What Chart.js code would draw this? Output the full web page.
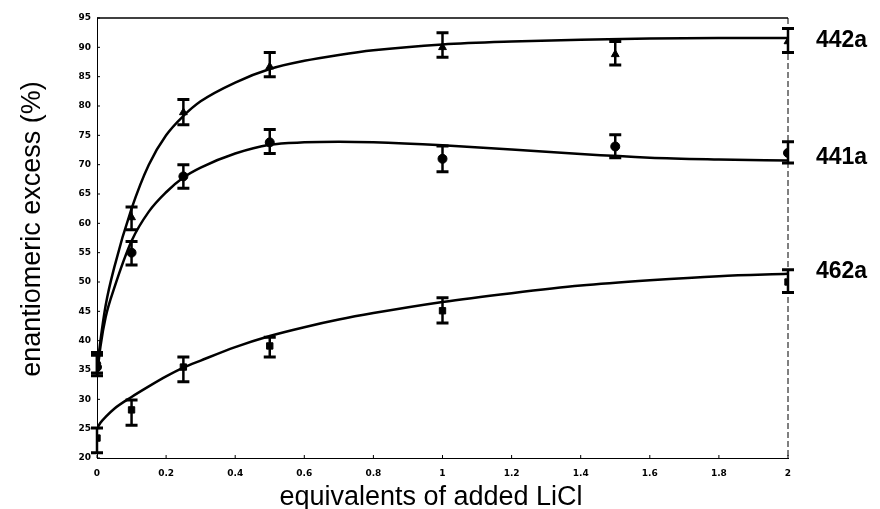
<!DOCTYPE html>
<html>
<head>
<meta charset="utf-8">
<script src="https://cdn.jsdelivr.net/npm/chart.js@4"></script>
<style>
  html, body { margin: 0; padding: 0; background: #fff; }
  #wrap { width: 880px; height: 509px; }
</style>
</head>
<body>
<div id="wrap"><canvas id="chart" width="880" height="509"></canvas></div>
<script>
// ── Data ────────────────────────────────────────────────────────────────────
const xTicks = [0, 0.2, 0.4, 0.6, 0.8, 1, 1.2, 1.4, 1.6, 1.8, 2];
const yTicks = [20, 25, 30, 35, 40, 45, 50, 55, 60, 65, 70, 75, 80, 85, 90, 95];

const seriesNames = ['442a', '441a', '462a'];

// measured points (LiCl equivalents) with error bars
const x442a  = [0, 0.1, 0.25, 0.5, 1, 1.5, 2];
const ee442a = [36.5, 61, 78.9, 86.7, 90, 88.8, 91];
const lo442a = [34.5, 58.9, 76.8, 85, 88.3, 87, 89.1];
const hi442a = [38, 62.8, 81.1, 89.1, 92.5, 91, 93.2];

const x441a  = [0, 0.1, 0.25, 0.5, 1, 1.5, 2];
const ee441a = [35.5, 55, 68, 73.8, 71, 73.1, 72];
const lo441a = [34, 52.9, 66, 71.9, 68.8, 71.2, 70.3];
const hi441a = [37.5, 56.9, 70, 76, 73.2, 75.1, 73.9];

const x462a  = [0, 0.1, 0.25, 0.5, 1, 2];
const ee462a = [23.4, 28.2, 35.5, 39.1, 45.1, 50];
const lo462a = [20.9, 25.6, 33, 37.2, 43, 48.2];
const hi462a = [25.1, 29.9, 37.2, 40.6, 47.3, 52.1];

// fitted curves
const fitX    = [0, 0.01, 0.025, 0.05, 0.1, 0.15, 0.2, 0.25, 0.3, 0.4, 0.5, 0.6, 0.7, 0.8, 1.0, 1.2, 1.4, 1.6, 1.8, 2.0];
const fit442a = [35, 40, 46, 52.5, 62.5, 70, 75, 78.3, 80.8, 84, 86.3, 87.7, 88.7, 89.5, 90.5, 91, 91.3, 91.5, 91.6, 91.6];
const fit441a = [34, 39, 44, 49, 57, 62, 65.3, 67.8, 69.5, 71.9, 73.4, 73.8, 73.9, 73.8, 73.3, 72.6, 71.8, 71.2, 70.9, 70.7];
const fit462a = [25, 26, 27, 28.4, 30.4, 32.2, 33.9, 35.4, 36.6, 38.9, 40.8, 42.3, 43.6, 44.7, 46.6, 48.1, 49.4, 50.3, 51.0, 51.4];

const labelY = [91.5, 71.5, 52];   // where the series names sit, in data units

// ── Helpers ─────────────────────────────────────────────────────────────────
const pts = (xs, ys) => xs.map((x, i) => ({ x, y: ys[i] }));

function curve(data) {
  return { type: 'scatter', data: pts(fitX, data), showLine: true, borderColor: '#000',
           borderWidth: 2.5, pointRadius: 0, cubicInterpolationMode: 'monotone', fill: false };
}
function marks(xs, ys, lo, hi, style) {
  return { type: 'scatter', data: pts(xs, ys), pointStyle: style, pointRadius: 4.5,
           backgroundColor: '#000', borderColor: '#000', lo, hi };
}

// ── Plugin: frame, error bars, titles, series names ─────────────────────────
const decor = {
  id: 'decor',
  beforeDatasetsDraw(chart) {
    const { ctx, chartArea: a } = chart;
    ctx.save();
    ctx.strokeStyle = '#000';
    ctx.lineWidth = 1.5;
    ctx.beginPath(); ctx.moveTo(a.left, a.top); ctx.lineTo(a.right, a.top); ctx.stroke();
    ctx.lineWidth = 1;
    ctx.setLineDash([6, 3]);
    ctx.beginPath(); ctx.moveTo(a.right, a.top); ctx.lineTo(a.right, a.bottom); ctx.stroke();
    ctx.setLineDash([]);
    // small inward ticks
    const xs = chart.scales.x, ys = chart.scales.y;
    xTicks.forEach(v => {
      const px = xs.getPixelForValue(v);
      ctx.beginPath(); ctx.moveTo(px, a.bottom); ctx.lineTo(px, a.bottom - 3); ctx.stroke();
    });
    yTicks.forEach(v => {
      const py = ys.getPixelForValue(v);
      ctx.beginPath(); ctx.moveTo(a.left, py); ctx.lineTo(a.left + 3, py); ctx.stroke();
    });
    ctx.restore();
  },
  afterDatasetsDraw(chart) {
    const { ctx } = chart;
    const xs = chart.scales.x, ys = chart.scales.y;
    ctx.save();
    ctx.strokeStyle = '#000';
    chart.data.datasets.forEach(ds => {
      if (!ds.lo) return;
      ds.data.forEach((p, i) => {
        const px = xs.getPixelForValue(p.x);
        const top = ys.getPixelForValue(ds.hi[i]);
        const bot = ys.getPixelForValue(ds.lo[i]);
        ctx.lineWidth = 2.5;
        ctx.beginPath(); ctx.moveTo(px, top); ctx.lineTo(px, bot); ctx.stroke();
        ctx.lineWidth = 3;
        ctx.beginPath();
        ctx.moveTo(px - 6, top); ctx.lineTo(px + 6, top);
        ctx.moveTo(px - 6, bot); ctx.lineTo(px + 6, bot);
        ctx.stroke();
      });
    });

    // axis titles
    ctx.fillStyle = '#000';
    ctx.font = '27px "Liberation Sans", Arial, sans-serif';
    ctx.textAlign = 'center';
    ctx.textBaseline = 'alphabetic';
    ctx.fillText('equivalents of added LiCl', 431, 505);
    ctx.save();
    ctx.translate(40, 229);
    ctx.rotate(-Math.PI / 2);
    ctx.fillText('enantiomeric excess (%)', 0, 0);
    ctx.restore();

    // series names at right
    ctx.font = 'bold 23px "Liberation Sans", Arial, sans-serif';
    ctx.textAlign = 'left';
    seriesNames.forEach((name, i) => {
      ctx.fillText(name, 816, ys.getPixelForValue(labelY[i]) + 8);
    });
    ctx.restore();
  }
};

// ── Chart ───────────────────────────────────────────────────────────────────
const tickFont = { family: '"DejaVu Sans", sans-serif', size: 9, weight: 'bold' };

new Chart(document.getElementById('chart'), {
  type: 'scatter',
  data: {
    datasets: [
      curve(fit442a), curve(fit441a), curve(fit462a),
      marks(x442a, ee442a, lo442a, hi442a, 'triangle'),
      marks(x441a, ee441a, lo441a, hi441a, 'circle'),
      marks(x462a, ee462a, lo462a, hi462a, 'rect'),
    ]
  },
  options: {
    responsive: false,
    animation: false,
    layout: { padding: { top: 18, right: 92, left: 0, bottom: 0 } },
    plugins: { legend: { display: false }, tooltip: { enabled: false } },
    scales: {
      x: {
        type: 'linear', min: 0, max: 2,
        afterBuildTicks: s => { s.ticks = xTicks.map(v => ({ value: v })); },
        afterFit: s => { s.height = 51; },
        grid: { display: false, drawTicks: false },
        border: { display: true, color: '#000', width: 1, dash: [7, 3] },
        ticks: { color: '#000', font: tickFont, padding: 10, maxRotation: 0,
                 callback: v => String(v) }
      },
      y: {
        type: 'linear', min: 20, max: 95,
        afterBuildTicks: s => { s.ticks = yTicks.map(v => ({ value: v })); },
        afterFit: s => { s.width = 97; },
        grid: { display: false, drawTicks: false },
        border: { display: true, color: '#000', width: 1, dash: [5, 2] },
        ticks: { color: '#000', font: tickFont, padding: 6, callback: v => String(v) }
      }
    }
  },
  plugins: [decor]
});
</script>
</body>
</html>
